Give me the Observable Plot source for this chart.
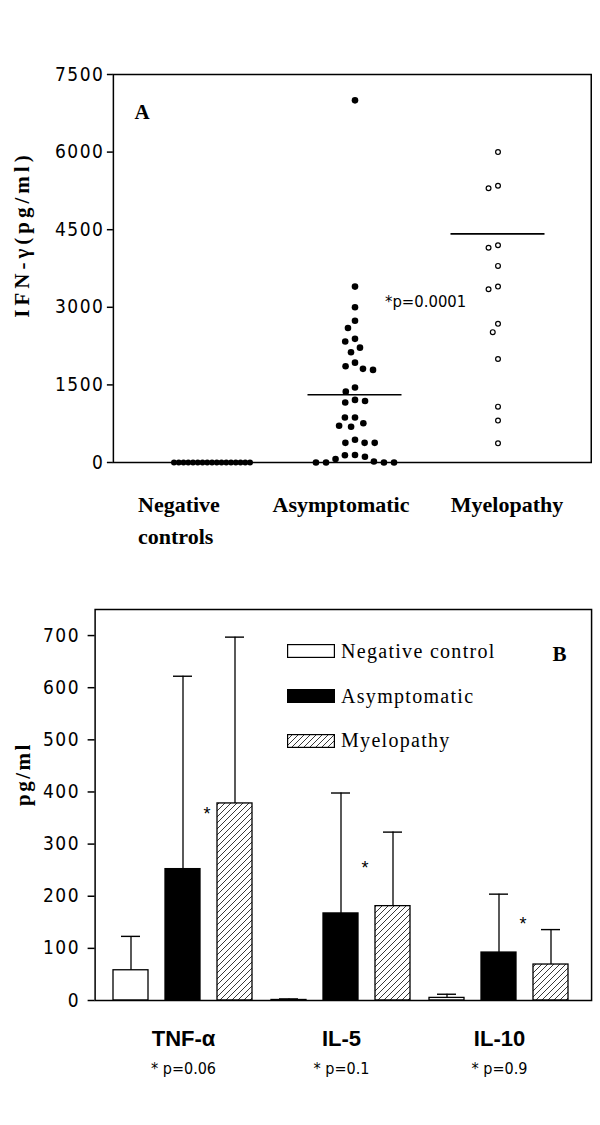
<!DOCTYPE html>
<html>
<head>
<meta charset="utf-8">
<script src="https://cdn.jsdelivr.net/npm/d3@7"></script>
<script src="https://cdn.jsdelivr.net/npm/@observablehq/plot@0.6"></script>
<style>
  body { margin: 0; background: #fff; }
  .panel { position: relative; width: 600px; }
  .panel svg { display: block; }
  .panel [aria-label="y-axis tick label"] text { letter-spacing: 1.5px; }
  .ls4 text { letter-spacing: 4px; }
  .ls2 text { letter-spacing: 2.5px; }
  #pb .lg-swatches { position: absolute !important; left: 287px !important; top: 49px !important; width: 280px !important;
     margin: 0 !important; columns: auto !important; font: 20px "Liberation Serif", "Times New Roman", serif !important;
     letter-spacing: 1.3px; color: #000 !important; }
  #pb .lg-swatch { display: flex !important; align-items: center !important; height: 44.75px !important;
     padding: 0 !important; margin: 0 !important; }
  #pb .lg-swatch > svg { margin-right: 6px !important; overflow: hidden !important; flex: none; }
  #pb .lg-swatch > svg rect { stroke: #000; stroke-width: 2.4px; }
</style>
</head>
<body>
<div class="panel" id="pa"></div>
<div class="panel" id="pb"></div>
<script>
// ---------- Panel A data ----------
const groupsA = ["Negative controls", "Asymptomatic", "Myelopathy"];
const catLabelsA = ["Negative\ncontrols", "Asymptomatic", "Myelopathy"];
const negControls = [0, 0, 0, 0, 0, 0, 0, 0, 0, 0, 0, 0, 0, 0, 0, 0, 0];
const asymptomatic = [7000, 3400, 3000, 2740, 2600, 2390, 2340, 2220, 2130, 1930, 1860, 1810, 1790,
  1450, 1370, 1210, 1190, 1160, 870, 870, 760, 710, 690, 440, 380, 380, 380,
  145, 140, 110, 66, 20, 0, 0, 0, 0];
const myelopathy = [6000, 5350, 5300, 4200, 4150, 3800, 3400, 3350, 2680, 2520, 2000, 1080, 810, 370];
const groupLinesA = [null, 1310, 4420];
const yTicksA = [0, 1500, 3000, 4500, 6000, 7500];
const yLabelA = "IFN-γ(pg/ml)";
const pTextA = "*p=0.0001";

// ---------- Panel B data ----------
const cytokines = ["TNF-α", "IL-5", "IL-10"];
const pValuesB = ["* p=0.06", "* p=0.1", "* p=0.9"];
const groupsB = ["Negative control", "Asymptomatic", "Myelopathy"];
const negMean = [58, 1, 5];
const negUpper = [123, 3, 12];
const asymMean = [252, 167, 92];
const asymUpper = [622, 398, 204];
const myeloMean = [378, 181, 69];
const myeloUpper = [697, 323, 136];
const starY = [368, 266, 157];
const yTicksB = [0, 100, 200, 300, 400, 500, 600, 700];
const yLabelB = "pg/ml";

const sansNarrow = `"Liberation Sans Narrow", "Arial Narrow", "DejaVu Sans Condensed", "Liberation Sans", sans-serif`;
const sans = `"Liberation Sans", Arial, sans-serif`;
const serif = `"Liberation Serif", "Times New Roman", "DejaVu Serif", serif`;

// gaps between the frame edges and the outer facets (from the fx band layout)
function facetGaps(W, n, po, align) {
  const step = W / (n + 2 * po);
  const rest = W - step * n;
  return [rest * align, rest * (1 - align)];
}

// ---------- Panel A ----------
const A = {width: 600, height: 580, ml: 112, mr: 8, mt: 74, mb: 118, po: 0.17, align: 0.555};
const [offLA, offRA] = facetGaps(A.width - A.ml - A.mr, groupsA.length, A.po, A.align);
const negRows = negControls.map(v => ({cat: groupsA[0], v}));
const asymRows = asymptomatic.map(v => ({cat: groupsA[1], v}));
const myeloRows = myelopathy.map(v => ({cat: groupsA[2], v}));
const lineRows = groupsA.map((cat, i) => ({cat, v: groupLinesA[i]})).filter(d => d.v != null);

const labelOpts = {frameAnchor: "bottom", lineAnchor: "bottom", lineHeight: 1.45,
  fontFamily: serif, fontWeight: "bold", fontSize: 22};

const plotA = Plot.plot({
  width: A.width, height: A.height,
  marginLeft: A.ml, marginRight: A.mr, marginTop: A.mt, marginBottom: A.mb,
  style: {background: "white", color: "black", overflow: "visible", fontFamily: sansNarrow},
  fx: {domain: groupsA, axis: null, paddingInner: 0, paddingOuter: A.po, align: A.align},
  y: {domain: [0, 7500]},
  marks: [
    Plot.frame({facet: "super", stroke: "black", strokeWidth: 1.5, insetLeft: -offLA, insetRight: -offRA}),
    Plot.axisY(yTicksA, {anchor: "left", dx: -offLA, tickSize: 6, tickPadding: 3, strokeWidth: 1.5,
      tickFormat: d => String(d), fontFamily: sansNarrow, fontSize: 19, label: null}),
    Plot.ruleY(lineRows, {fx: "cat", y: "v", insetLeft: 24.5, insetRight: 24.5, strokeWidth: 1.6}),
    Plot.dot(negRows, Plot.dodgeX({anchor: "middle", padding: -1.25}, {fx: "cat", y: "v", r: 3, fill: "black"})),
    Plot.dot(asymRows, Plot.dodgeX({anchor: "middle", padding: 3.5}, {fx: "cat", y: "v", r: 3.3, fill: "black"})),
    Plot.dot(myeloRows, Plot.dodgeX({anchor: "middle", padding: 5}, {fx: "cat", y: "v", r: 2.4, fill: "white", stroke: "black", strokeWidth: 1.2})),
    Plot.text([{cat: groupsA[1], v: 3000}], {fx: "cat", y: "v", text: () => pTextA, textAnchor: "start",
      lineAnchor: "bottom", dx: 30, fontFamily: sansNarrow, fontSize: 16.5}),
    Plot.text([0], {...labelOpts, fx: i => groupsA[i], text: i => catLabelsA[i], textAnchor: "start", dx: -74, dy: 81}),
    Plot.text([1], {...labelOpts, fx: i => groupsA[i], text: i => catLabelsA[i], dx: -14, dy: 49}),
    Plot.text([2], {...labelOpts, fx: i => groupsA[i], text: i => catLabelsA[i], dx: 9, dy: 49}),
    Plot.text([yLabelA], {facet: "super", frameAnchor: "left", text: d => d, rotate: -90, dx: -91 - offLA, dy: -34,
      textAnchor: "middle", lineAnchor: "middle", fontFamily: serif, fontWeight: "bold", fontSize: 21, className: "ls4"}),
    Plot.text(["A"], {facet: "super", frameAnchor: "top-left", text: d => d, dx: 21 - offLA, dy: 44, textAnchor: "start",
      lineAnchor: "bottom", fontFamily: serif, fontWeight: "bold", fontSize: 21})
  ]
});
document.getElementById("pa").appendChild(plotA);

// ---------- Panel B ----------
const B = {width: 600, height: 545, ml: 94, mr: 9, mt: 29, mb: 125, po: 0.071, align: 0.418};
const [offLB, offRB] = facetGaps(B.width - B.ml - B.mr, cytokines.length, B.po, B.align);
const meansB = [negMean, asymMean, myeloMean];
const uppersB = [negUpper, asymUpper, myeloUpper];
const rowsB = [];
cytokines.forEach((cyto, i) => groupsB.forEach((group, j) =>
  rowsB.push({cyto, group, mean: meansB[j][i], upper: uppersB[j][i]})));
const starRows = cytokines.map((cyto, i) => ({cyto, y: starY[i]}));
const colorB = {domain: groupsB, range: ["white", "black", "url(#hatch)"]};

const plotB = Plot.plot({
  width: B.width, height: B.height,
  marginLeft: B.ml, marginRight: B.mr, marginTop: B.mt, marginBottom: B.mb,
  style: {background: "white", color: "black", overflow: "visible", fontFamily: sansNarrow},
  fx: {domain: cytokines, axis: null, paddingInner: 0, paddingOuter: B.po, align: B.align},
  x: {domain: groupsB, axis: null, paddingInner: 0.324, paddingOuter: 0.168},
  y: {domain: [0, 750]},
  color: colorB,
  marks: [
    Plot.barY(rowsB, {fx: "cyto", x: "group", y: "mean", fill: "group", stroke: "black", strokeWidth: 1.3}),
    Plot.ruleX(rowsB, {fx: "cyto", x: "group", y1: "mean", y2: "upper", strokeWidth: 1.3}),
    Plot.tickY(rowsB, {fx: "cyto", x: "group", y: "upper", insetLeft: 8, insetRight: 8, strokeWidth: 1.4}),
    Plot.frame({facet: "super", stroke: "black", strokeWidth: 1.5, insetLeft: -offLB, insetRight: -offRB}),
    Plot.axisY(yTicksB, {anchor: "left", dx: -offLB, tickSize: 7, tickPadding: 8, strokeWidth: 1.5,
      tickFormat: d => String(d), fontFamily: sansNarrow, fontSize: 19, label: null}),
    Plot.text(starRows, {fx: "cyto", x: () => groupsB[2], y: "y", text: () => "*", dx: -28, dy: 6,
      fontFamily: sans, fontSize: 18}),
    Plot.text(cytokines, {fx: d => d, text: d => d, frameAnchor: "bottom", lineAnchor: "bottom", dy: 45,
      fontFamily: sans, fontWeight: "bold", fontSize: 22}),
    Plot.text(cytokines, {fx: d => d, text: (d, i) => pValuesB[i], frameAnchor: "bottom", lineAnchor: "bottom", dy: 73,
      fontFamily: sansNarrow, fontSize: 16}),
    Plot.text([yLabelB], {facet: "super", frameAnchor: "left", text: d => d, rotate: -90, dx: -72 - offLB, dy: -31,
      textAnchor: "middle", lineAnchor: "middle", fontFamily: serif, fontWeight: "bold", fontSize: 21, className: "ls2"}),
    Plot.text(["B"], {facet: "super", frameAnchor: "top-right", text: d => d, dx: -25 + offRB, dy: 51, textAnchor: "end",
      lineAnchor: "bottom", fontFamily: serif, fontWeight: "bold", fontSize: 21})
  ]
});
d3.select(plotB).insert("defs", ":first-child").html(
  `<pattern id="hatch" patternUnits="userSpaceOnUse" width="6" height="6">
     <rect width="6" height="6" fill="white"></rect>
     <path d="M-1,1 l2,-2 M0,6 l6,-6 M5,7 l2,-2" stroke="#222" stroke-width="0.9"></path>
   </pattern>`);
const pb = document.getElementById("pb");
pb.appendChild(plotB);
const legendB = Plot.legend({color: colorB, legend: "swatches", columns: 1, swatchWidth: 48, swatchHeight: 14, className: "lg"});
pb.appendChild(legendB);
</script>
</body>
</html>
